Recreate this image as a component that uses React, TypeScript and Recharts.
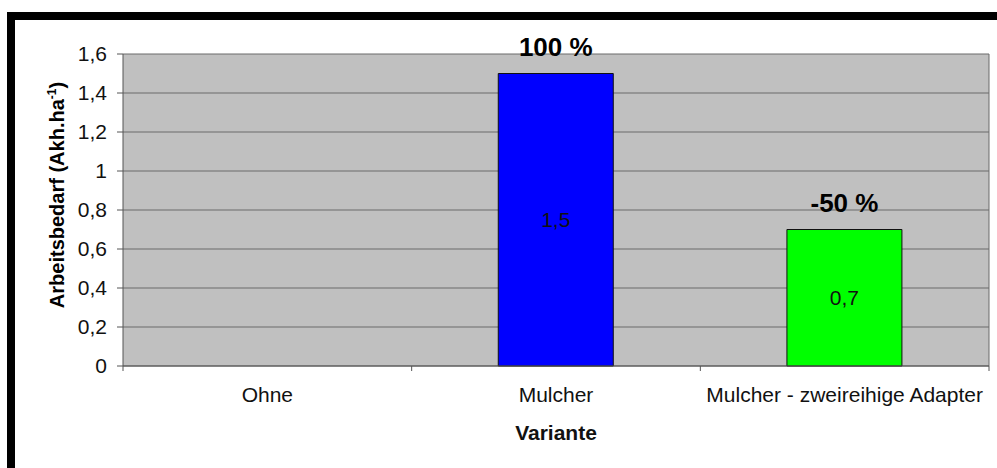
import React, { useEffect } from 'react';
import { BarChart, Bar, XAxis, YAxis, CartesianGrid, Cell, LabelList } from 'recharts';

const categories = ['Ohne', 'Mulcher', 'Mulcher - zweireihige Adapter'];
const values: (number | null)[] = [null, 1.5, 0.7];
const changeLabels = ['', '100 %', '-50 %'];
const barColors = ['#0000FF', '#0000FF', '#00FF00'];
const yTicks = [0, 0.2, 0.4, 0.6, 0.8, 1, 1.2, 1.4, 1.6];

const W = 997;
const H = 468;
const Y_AXIS_W = 123;
const MARGIN_R = 8;
const FONT = '"Liberation Sans", Arial, sans-serif';

const data = categories.map((name, i) => ({ name, value: values[i], change: changeLabels[i] }));

const fmt = (v: number) => String(v).replace('.', ',');

const plotW = W - Y_AXIS_W - MARGIN_R;
const band = plotW / categories.length;

const XTick = (props: any) => {
    const { x, y, payload, index } = props;
    const left = x - band / 2;
    return (
        <g>
            <line x1={left} y1={y - 8} x2={left} y2={y - 3} stroke="#555" />
            {index === categories.length - 1 && (
                <line x1={x + band / 2} y1={y - 8} x2={x + band / 2} y2={y - 3} stroke="#555" />
            )}
            <text x={x} y={y + 28} textAnchor="middle" fontSize={21} fill="#111" fontFamily={FONT}>
                {payload.value}
            </text>
        </g>
    );
};

const ChangeLabel = (props: any) => {
    const { x, y, width, value } = props;
    if (!value) return null;
    return (
        <text x={x + width / 2} y={y - 27} dy="0.35em" textAnchor="middle" fontSize={26}
            fontWeight="bold" fill="#000" fontFamily={FONT}>
            {value}
        </text>
    );
};

const InnerLabel = (props: any) => {
    const { x, y, width, height, value } = props;
    if (value == null) return null;
    return (
        <text x={x + width / 2} y={y + height / 2} dy="0.35em" textAnchor="middle" fontSize={21}
            fill="#111" fontFamily={FONT}>
            {fmt(value)}
        </text>
    );
};

const YTitle = (props: any) => {
    const { viewBox } = props;
    const cx = viewBox.x + 57;
    const cy = viewBox.y + viewBox.height / 2 - 15;
    return (
        <text x={cx} y={cy} transform={`rotate(-90, ${cx}, ${cy})`} textAnchor="middle" dy="0.35em"
            fontSize={20} fontWeight="bold" fill="#000" fontFamily={FONT}>
            Arbeitsbedarf (Akh.ha
            <tspan fontSize={12} dy="-8">-1</tspan>
            <tspan dy="8">)</tspan>
        </text>
    );
};

export default function App() {
    useEffect(() => {
        document.documentElement.style.overflow = 'hidden';
        document.body.style.overflow = 'hidden';
        document.body.style.margin = '0';
    }, []);

    return (
        <div style={{ position: 'fixed', top: 0, left: 0, width: W, height: H, overflow: 'hidden', background: '#fff' }}>
            {/* frame: only its top and left edges fall inside the picture */}
            <svg width={W} height={H} style={{ position: 'absolute', top: 0, left: 0 }}>
                <rect x={7} y={12} width={W} height={8} fill="#000" />
                <rect x={7} y={12} width={8} height={H} fill="#000" />
            </svg>
            <div style={{ position: 'absolute', top: 0, left: 0 }}>
                <BarChart width={W} height={H} data={data}
                    margin={{ top: 54, right: MARGIN_R, left: 0, bottom: 0 }}
                    barCategoryGap="30%">
                    <CartesianGrid fill="#C0C0C0" fillOpacity={1} stroke="#6A6A6A" vertical
                        verticalCoordinatesGenerator={({ offset }: any) => [offset.left + offset.width]} />
                    <XAxis dataKey="name" height={102} interval={0} tickLine={false}
                        axisLine={{ stroke: '#555' }} tick={<XTick />}
                        label={{ value: 'Variante', position: 'insideBottom', offset: 28, fontSize: 21, fontWeight: 'bold', fill: '#111', fontFamily: FONT }} />
                    <YAxis width={Y_AXIS_W} domain={[0, 1.6]} ticks={yTicks} interval={0}
                        tickFormatter={fmt} tickSize={6} tickMargin={10}
                        axisLine={{ stroke: '#555' }} tickLine={{ stroke: '#555' }}
                        tick={{ fontSize: 21, fill: '#111', fontFamily: FONT }}
                        label={<YTitle />} />
                    <Bar dataKey="value" stroke="#111" strokeWidth={1} isAnimationActive={false}>
                        {data.map((d, i) => <Cell key={d.name} fill={barColors[i]} />)}
                        <LabelList dataKey="value" content={<InnerLabel />} />
                        <LabelList dataKey="change" content={<ChangeLabel />} />
                    </Bar>
                </BarChart>
            </div>
        </div>
    );
}
